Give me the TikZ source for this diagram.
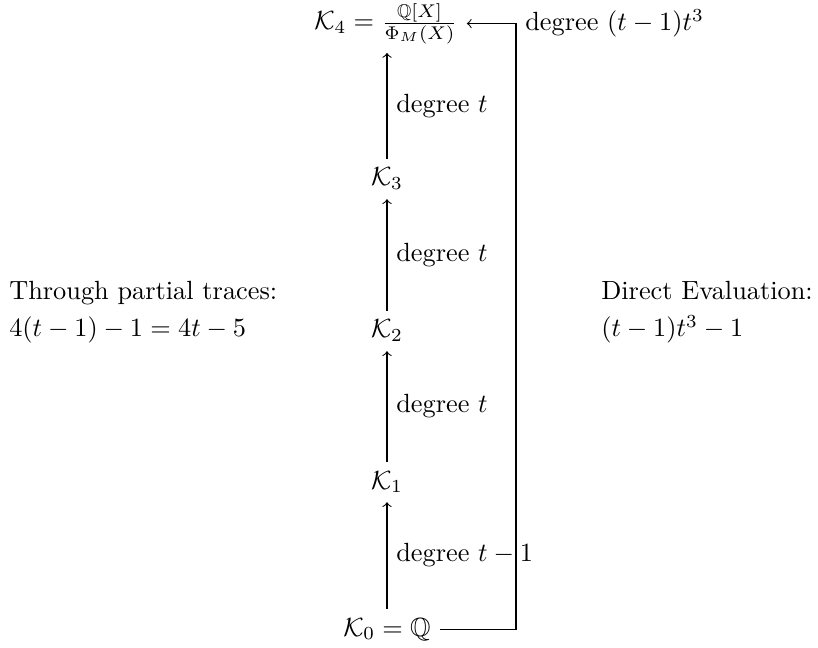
\documentclass[tikz,border=0pt]{standalone}
\usepackage{amsmath,amssymb}
\usepackage{tikz}
\usetikzlibrary{positioning}

\begin{document}
\begin{tikzpicture}[
  x=0.38pt, y=-0.38pt,
  field/.style={anchor=base},
  arrow/.style={->},
  deg/.style={midway, right},
  note/.style={anchor=base west}
]
\useasboundingbox (0,0) rectangle (818,648);

% tower of fields
\node[field] (k4) at (386,30) {$\mathcal{K}_4 = \frac{\mathbb{Q}[X]}{\Phi_M(X)}$};
\node[field] (k3) at (387,186) {$\mathcal{K}_3$};
\node[field] (k2) at (387,338) {$\mathcal{K}_2$};
\node[field] (k1) at (387,489) {$\mathcal{K}_1$};
\node[field] (k0) at (387,636) {$\mathcal{K}_0 = \mathbb{Q}$};

\draw[arrow] (k0) -- node[deg] {degree $t-1$} (k0 |- k1.south);
\draw[arrow] (k1) -- node[deg] {degree $t$} (k2);
\draw[arrow] (k2) -- node[deg] {degree $t$} (k3);
\draw[arrow] (k3) -- node[deg] {degree $t$} (k3 |- k4.south);

% direct extension
\coordinate (rt) at (516,0);
\draw[arrow] (k0.east) -- (k0.east -| rt) -- (k4.east -| rt)
  node[right] {degree $(t-1)t^3$} -- (k4.east);

% side notes
\node[note] (trhead) at (0,300) {Through partial traces:};
\node[note] (trval) at (0,337) {$4(t-1)-1=4t-5$};
\node[note] (evhead) at (592,300) {Direct Evaluation:};
\node[note] (evval) at (592,337) {$(t-1)t^3-1$};
\end{tikzpicture}
\end{document}
